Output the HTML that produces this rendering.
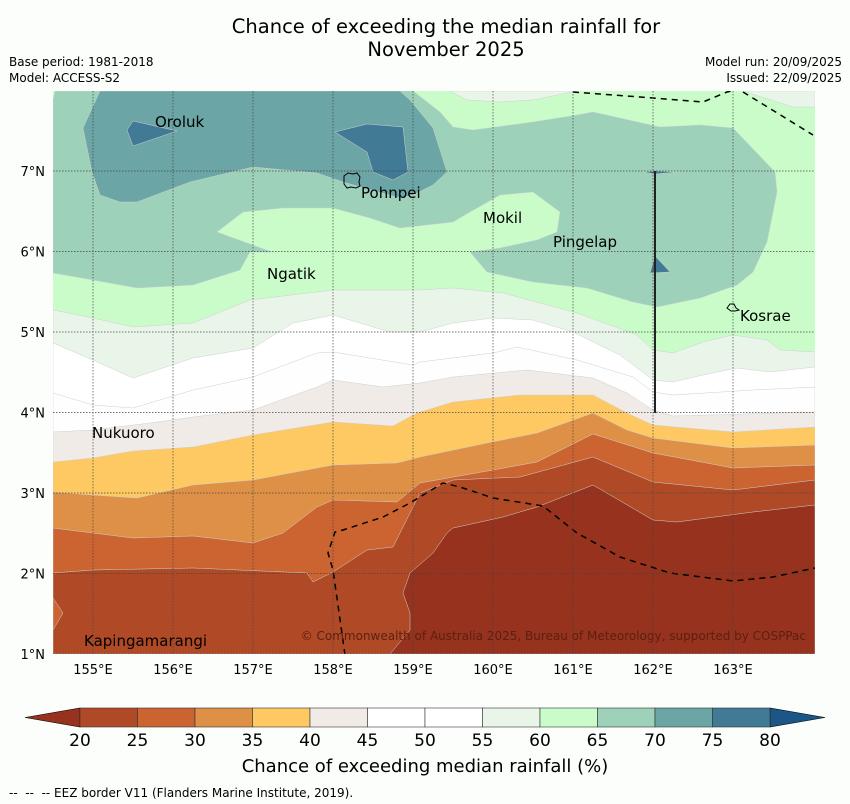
<!DOCTYPE html>
<html><head><meta charset="utf-8"><style>
html,body{margin:0;padding:0;background:#fcfefc;}
svg{display:block;font-family:"DejaVu Sans","Liberation Sans",sans-serif;}
</style></head><body>
<svg id="fig" width="850" height="804" viewBox="0 0 850 804" xmlns="http://www.w3.org/2000/svg">
<rect width="850" height="804" fill="#fcfefc"/>
<text x="446" y="33" font-size="19.5" text-anchor="middle" fill="#000">Chance of exceeding the median rainfall for</text>
<text x="446" y="56" font-size="19.5" text-anchor="middle" fill="#000">November 2025</text>
<text x="9" y="66" font-size="12">Base period: 1981-2018</text>
<text x="9" y="82" font-size="12">Model: ACCESS-S2</text>
<text x="842" y="66" font-size="12" text-anchor="end">Model run: 20/09/2025</text>
<text x="842" y="82" font-size="12" text-anchor="end">Issued: 22/09/2025</text>

<defs><clipPath id="mapclip"><rect x="53" y="91" width="762" height="563"/></clipPath></defs>
<g clip-path="url(#mapclip)" stroke="#cfcfcf" stroke-width="0.5">
  <rect x="53" y="91" width="762" height="563" fill="#c9fcc9" stroke="none"/>
  <polygon fill="#eaf5ea" points="450,91 467,100 500,102 533,100 577,91"/>
  <polygon fill="#eaf5ea" points="743,91 793,107 815,107 815,91"/>
  <polygon fill="#9dd1b9" points="55,91 413,91 440,112 453,127 473,130 533,122 577,115 593,112 660,127 700,125 733,128 775,172 777,192 767,242 753,272 737,285 700,298 657,307 633,302 587,288 533,282 487,272 470,252 500,248 537,240 557,232 560,212 533,192 500,195 470,212 453,222 400,228 370,218 333,208 283,208 243,212 217,232 272,252 250,252 240,270 193,285 137,288 93,280 53,273 53,100"/>
  <polygon fill="#6ba5a5" points="100,91 83,128 92,172 100,195 120,202 137,202 190,182 253,167 317,173 343,182 400,198 413,195 433,185 447,172 433,128 410,100 400,91"/>
  <polygon fill="#417a95" points="127,130 133,121 177,131 133,146"/>
  <polygon fill="#417a95" points="335,132 367,124 403,127 408,172 393,180 373,172 367,152"/>
  <polygon fill="#417a95" points="643,172 655,171 677,172 655,174"/>
  <polygon fill="#417a95" points="655,256 670,272 650,273"/>
  <polygon fill="#eaf5ea" points="53,310 93,318 133,327 193,323 250,300 333,290 420,290 453,288 503,293 577,313 637,335 653,350 673,353 703,342 733,335 767,340 780,350 815,352 815,654 53,654"/>
  <polygon fill="#ffffff" points="53,343 93,360 133,378 193,358 253,348 293,323 333,315 390,332 420,332 453,323 493,318 533,320 573,332 620,355 653,380 673,382 703,375 737,368 770,372 815,367 815,654 53,654"/>
  <polygon fill="#fdfefd" points="53,393 93,405 133,408 193,390 253,377 317,353 333,352 413,365 420,362 493,353 517,347 577,360 633,377 653,392 673,395 753,390 815,387 815,654 53,654"/>
  <polygon fill="#f0ebe6" points="53,432 93,430 150,423 193,417 253,410 317,387 333,380 383,387 420,383 453,377 527,370 593,378 627,393 653,410 673,416 815,412 815,654 53,654"/>
  <polygon fill="#fec863" points="53,462 93,458 133,451 193,447 253,435 333,422 393,426 417,413 453,402 520,395 593,395 627,413 653,425 733,432 815,427 815,654 53,654"/>
  <polygon fill="#de9146" points="53,492 93,495 137,498 193,485 253,480 333,465 397,463 420,457 487,443 537,433 593,413 627,430 653,438 733,448 815,445 815,654 53,654"/>
  <polygon fill="#cb6430" points="53,528 93,533 133,538 193,536 253,543 283,533 317,507 333,500 397,502 420,483 493,470 537,462 593,434 653,453 733,468 815,465 815,654 53,654"/>
  <polygon fill="#b04a26" points="53,573 93,570 193,568 307,573 313,582 333,572 367,550 393,547 420,493 453,480 520,477 593,457 653,482 733,490 815,480 815,654 53,654"/>
  <polygon fill="#cb6430" points="53,598 63,613 53,630"/>
  <polygon fill="#97321e" points="390,654 410,630 410,613 403,593 410,573 433,553 447,533 453,528 503,517 537,507 593,485 653,520 677,522 753,512 815,505 815,654"/>
  <g fill="none" stroke="#000" stroke-width="1.5" stroke-dasharray="6,5">
    <polyline points="573,92 640,97 703,102 727,92 745,88"/>
    <polyline points="743,92 813,135"/>
    <polyline points="345,655 333,570 328,553 335,532 343,530 383,517 410,503 443,483 460,487 493,498 543,506 577,533 620,557 670,573 733,581 773,577 815,568"/>
  </g>
  <line x1="655" y1="171" x2="655" y2="413" stroke="#222" stroke-width="2"/>
  <g id="grid" stroke="#444" stroke-width="0.7" stroke-dasharray="1.5,1.5" fill="none"></g>
  <path d="M344,176 l4,-3 5,1 4,-1 3,4 -1,5 1,4 -4,2 -5,-1 -4,1 -3,-4z" fill="none" stroke="#000" stroke-width="1"/>
  <path d="M727,308 l3,-4 4,0 2,4 3,2 -4,1 -4,0z" fill="none" stroke="#000" stroke-width="1"/>
  <text x="806" y="640" font-size="12" text-anchor="end" fill="#5a2012" stroke="none">© Commonwealth of Australia 2025, Bureau of Meteorology, supported by COSPPac</text>
</g>
<g font-size="15" fill="#000">
  <text x="155" y="127">Oroluk</text>
  <text x="361" y="198">Pohnpei</text>
  <text x="483" y="223">Mokil</text>
  <text x="553" y="247">Pingelap</text>
  <text x="267" y="279">Ngatik</text>
  <text x="740" y="321">Kosrae</text>
  <text x="92" y="438">Nukuoro</text>
  <text x="84" y="646">Kapingamarangi</text>
</g>
<g id="axes" font-size="13" fill="#000"></g>
<g id="cbar"></g>
<text x="425" y="772" font-size="18" text-anchor="middle">Chance of exceeding median rainfall (%)</text>
<text x="9" y="797" font-size="12" xml:space="preserve" style="white-space:pre">--  --  -- EEZ border V11 (Flanders Marine Institute, 2019).</text>
</svg>
<script>
const lonTicks = [155,156,157,158,159,160,161,162,163];
const latTicks = [1,2,3,4,5,6,7];
const levels = [20,25,30,35,40,45,50,55,60,65,70,75,80];
const bandColors = ["#b04a26","#cb6430","#de9146","#fec863","#f0ebe6","#ffffff","#ffffff","#eaf5ea","#c9fcc9","#9dd1b9","#6ba5a5","#417a95"];
const underColor = "#97321e";
const overColor = "#1c5687";
const NS="http://www.w3.org/2000/svg";
function xLon(v){return 53+(v-154.5)*80;}
function yLat(v){return 654-(v-1)*80.5;}
function xLev(v){return 80+(v-20)*(690/60);}
function mk(tag,attrs,parent){const e=document.createElementNS(NS,tag);for(const k in attrs)e.setAttribute(k,attrs[k]);parent.appendChild(e);return e;}
const grid=document.getElementById('grid'), axes=document.getElementById('axes'), cbar=document.getElementById('cbar');
lonTicks.forEach(v=>{
  const l=mk('line',{x1:xLon(v),x2:xLon(v),y1:91,y2:654},grid);
  
  
  const t=mk('text',{x:xLon(v),y:674,'text-anchor':'middle'},axes);
  t.textContent=v+'°E';
  
  
});
latTicks.forEach(v=>{
  const l=mk('line',{x1:53,x2:815,y1:yLat(v),y2:yLat(v)},grid);
  
  
  const t=mk('text',{x:45,y:yLat(v)+5,'text-anchor':'end'},axes);
  t.textContent=v+'°N';
  
  
});
const y0=708,y1=727;
const under=mk('polygon',{points:`${xLev(20)},${y0} ${xLev(20)},${y1} 25,${(y0+y1)/2}`,fill:underColor,stroke:'#000','stroke-width':0.6},cbar);


const over=mk('polygon',{points:`${xLev(80)},${y0} ${xLev(80)},${y1} 825,${(y0+y1)/2}`,fill:overColor,stroke:'#000','stroke-width':0.6},cbar);


bandColors.forEach((c,i)=>{
  const r=mk('rect',{x:xLev(levels[i]),y:y0,width:xLev(levels[i+1])-xLev(levels[i]),height:y1-y0,fill:c,stroke:'#333','stroke-width':0.6},cbar);
  
  
});
levels.forEach(v=>{
  const t=mk('text',{x:xLev(v),y:746,'text-anchor':'middle','font-size':17},cbar);
  t.textContent=v;
  
  
});
</script>
</body></html>
